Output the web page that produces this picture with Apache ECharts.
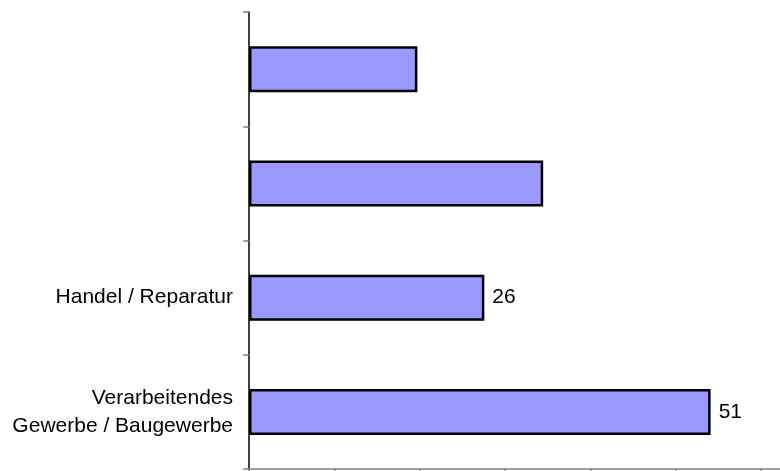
<!DOCTYPE html>
<html>
<head>
<meta charset="utf-8">
<script src="https://cdn.jsdelivr.net/npm/echarts@6/dist/echarts.min.js"></script>
<style>
  html, body { margin: 0; padding: 0; background: #fff; }
  #chart { width: 780px; height: 471px; }
</style>
</head>
<body>
<div id="chart"></div>
<script>
// categories top -> bottom (top two have no visible label)
const categories = ['', ' ', 'Handel / Reparatur', 'Verarbeitendes\nGewerbe / Baugewerbe'];
const values = [18.6, 32.5, 26, 51];
const showValue = [false, false, true, true];
// x axis: unlabelled ticks, 7 steps (axis runs past the right edge)
const xStep = 9.43;
const xSteps = 7;

const chart = echarts.init(document.getElementById('chart'));

const option = {
  animation: false,
  backgroundColor: '#fff',
  grid: {
    left: 249,
    width: 597.5,
    top: 12,
    bottom: 2,
    containLabel: false,
    outerBoundsMode: 'none'
  },
  xAxis: {
    type: 'value',
    min: 0,
    max: xStep * xSteps,
    interval: xStep,
    axisLine: { show: true, lineStyle: { color: '#808080', width: 1.5 } },
    axisTick: { show: true, length: 6, lineStyle: { color: '#808080', width: 1.5 } },
    axisLabel: { show: false },
    splitLine: { show: false }
  },
  yAxis: {
    type: 'category',
    inverse: true,
    data: categories,
    axisLine: { show: true, lineStyle: { color: '#000', width: 1.5 } },
    axisTick: { show: true, length: 6, lineStyle: { color: '#808080', width: 1.5 } },
    axisLabel: {
      margin: 16,
      color: '#000',
      fontFamily: 'Liberation Sans, Arial, sans-serif',
      fontSize: 21,
      lineHeight: 28,
      align: 'right'
    }
  },
  series: [{
    type: 'bar',
    barWidth: 46,
    itemStyle: {
      color: '#9999FF',
      borderColor: '#000',
      borderWidth: 2.5
    },
    label: {
      position: 'right',
      distance: 8,
      color: '#000',
      fontFamily: 'Liberation Sans, Arial, sans-serif',
      fontSize: 21
    },
    data: values.map((v, i) => ({
      value: v,
      label: { show: showValue[i] }
    }))
  }]
};

chart.setOption(option);
</script>
</body>
</html>
